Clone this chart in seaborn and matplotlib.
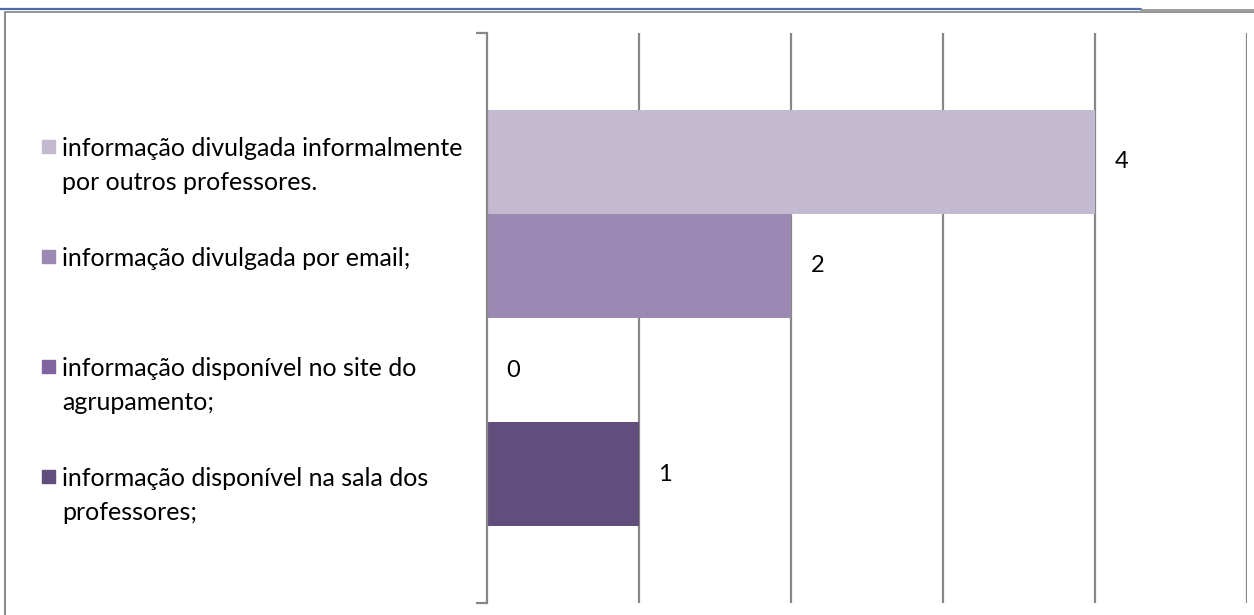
import matplotlib.pyplot as plt
import seaborn as sns
import pandas as pd
from matplotlib.patches import Rectangle
from matplotlib.lines import Line2D

# categories from top to bottom
categories = ['informação divulgada informalmente\npor outros professores.',
              'informação divulgada por email;',
              'informação disponível no site do\nagrupamento;',
              'informação disponível na sala dos\nprofessores;']
values = [4, 2, 0, 1]
colors = ['#C3B9D1', '#9B89B3', '#7F64A0', '#624E7C']


def draw_chart():
    sns.set_style('white')
    plt.rcParams['font.family'] = ['Lato', 'DejaVu Sans']

    df = pd.DataFrame({'resposta': categories, 'total': values})

    fig = plt.figure(figsize=(12.54, 6.15), dpi=100)
    W, H = 1254, 615
    ax = fig.add_axes([487 / W, 1 - 603 / H, (1247 - 487) / W, (603 - 33) / H])

    sns.barplot(data=df, x='total', y='resposta', hue='resposta', palette=colors,
                width=1, legend=False, orient='h', ax=ax, saturation=1, linewidth=0)

    ax.set_xlim(0, 5)
    ax.set_ylim(4.24, -1.24)
    ax.set_xticks(range(1, 6))
    ax.set_xticklabels([])
    ax.set_yticks([-1.24, 4.24])
    ax.set_yticklabels([])
    ax.set_xlabel('')
    ax.set_ylabel('')
    ax.grid(axis='x', color='#878787', lw=1.6)
    ax.set_axisbelow(True)
    ax.tick_params(axis='x', length=0)
    ax.tick_params(axis='y', left=True, length=8, width=1.6, color='#878787', direction='out')
    for s in ['top', 'right', 'bottom']:
        ax.spines[s].set_visible(False)
    ax.spines['left'].set_color('#878787')
    ax.spines['left'].set_linewidth(1.6)

    for cont in ax.containers:
        ax.bar_label(cont, padding=14, fontsize=17, color='black')

    # legend on the left, one slot per entry
    for i, (lab, col) in enumerate(zip(categories, colors)):
        yc = 147 + 110 * i
        fig.patches.append(Rectangle((42 / W, 1 - (yc + 6) / H), 13 / W, 13 / H,
                                     transform=fig.transFigure, color=col))
        fig.text(62 / W, 1 - (yc - 10) / H, lab, fontsize=18, va='top', ha='left',
                 linespacing=1.6, color='black')

    # page header line and chart frame
    fig.add_artist(Line2D([0, 1141 / W], [1 - 8.5 / H] * 2, transform=fig.transFigure,
                          color='#4F6BAE', lw=1.6))
    fig.add_artist(Line2D([1141 / W, 1], [1 - 10 / H] * 2, transform=fig.transFigure,
                          color='#8C8C8C', lw=1.2))
    fig.add_artist(Line2D([5 / W, 1], [1 - 11.5 / H] * 2, transform=fig.transFigure,
                          color='#8C8C8C', lw=1.3))
    fig.add_artist(Line2D([5 / W, 5 / W], [0, 1 - 11.5 / H], transform=fig.transFigure,
                          color='#8C8C8C', lw=1.5))

    fig.savefig('out.png', dpi=100)


if __name__ == '__main__':
    draw_chart()
